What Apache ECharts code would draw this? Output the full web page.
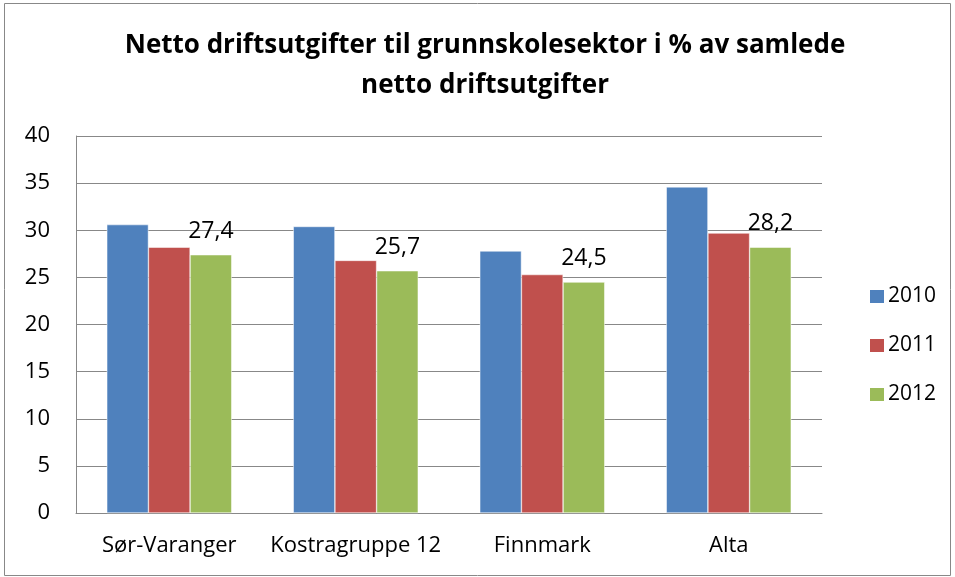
<!DOCTYPE html>
<html><head><meta charset="utf-8">
<script src="https://cdn.jsdelivr.net/npm/echarts@6/dist/echarts.min.js"></script>
<style>html,body{margin:0;padding:0;background:#fff}#c{width:955px;height:577px}</style>
</head><body><div id="c"></div>
<script>
const categories = ['Sør-Varanger', 'Kostragruppe 12', 'Finnmark', 'Alta'];
const years = ['2010', '2011', '2012'];
const v2010 = [30.6, 30.4, 27.8, 34.6];
const v2011 = [28.2, 26.8, 25.3, 29.7];
const v2012 = [27.4, 25.7, 24.5, 28.2];
const colors = ['#4F81BD', '#C0504D', '#9BBB59'];
const FONT = 'Open Sans';

const chart = echarts.init(document.getElementById('c'));
const mk = (name, data, i, lbl) => ({
  name, type: 'bar', data, barGap: '0%', barCategoryGap: '33%',
  itemStyle: { color: colors[i], borderColor: '#fff', borderWidth: 0.5 },
  label: lbl ? { show: true, position: 'top', distance: 12, fontFamily: FONT, fontSize: 23, color: '#000',
    formatter: p => String(p.value).replace('.', ',') } : { show: false }
});
chart.setOption({
  animation: false,
  textStyle: { fontFamily: FONT },
  graphic: [{ type: 'rect', shape: { x: 4.5, y: 3.5, width: 946, height: 572 },
    style: { fill: 'none', stroke: '#888', lineWidth: 1 }, silent: true }],
  title: { text: 'Netto driftsutgifter til grunnskolesektor i % av samlede\nnetto driftsutgifter',
    left: 480, top: 21, textAlign: 'center',
    textStyle: { fontFamily: FONT, fontWeight: 'bold', fontSize: 26, lineHeight: 40, color: '#000' } },
  legend: { orient: 'vertical', left: 863, top: 281, itemWidth: 16, itemHeight: 15, itemGap: 28,
    icon: 'rect', textStyle: { fontFamily: FONT, fontSize: 21, color: '#000', padding: [0,0,0,-2] }, data: years },
  grid: { left: 76, right: 133, top: 136, bottom: 64 },
  xAxis: { type: 'category', data: categories,
    axisLine: { lineStyle: { color: '#888' } }, axisTick: { show: false },
    axisLabel: { color: '#000', fontSize: 22, fontFamily: FONT, margin: 22, interval: 0 } },
  yAxis: { type: 'value', min: 0, max: 40, interval: 5,
    axisLine: { show: true, lineStyle: { color: '#888' } }, axisTick: { show: false },
    splitLine: { lineStyle: { color: '#888', width: 1 } },
    axisLabel: { color: '#000', fontSize: 22, fontFamily: FONT, margin: 26 } },
  series: [mk(years[0], v2010, 0, false), mk(years[1], v2011, 1, false), mk(years[2], v2012, 2, true)]
});
</script></body></html>
